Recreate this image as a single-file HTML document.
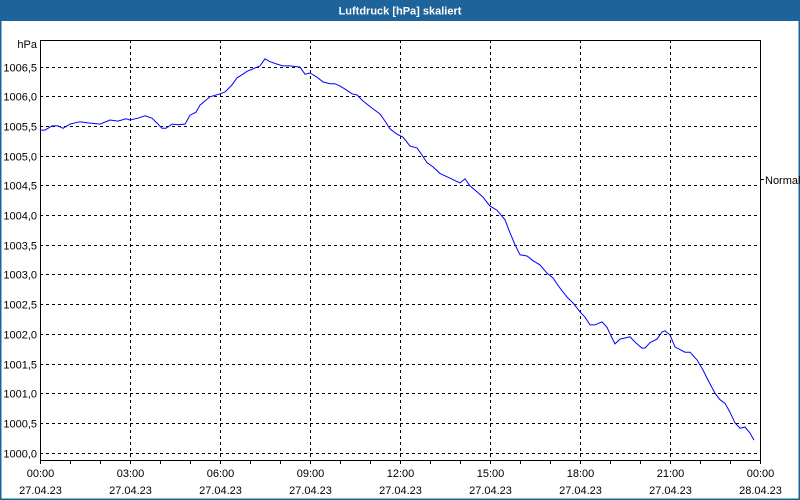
<!DOCTYPE html>
<html><head><meta charset="utf-8"><style>
html,body{margin:0;padding:0;background:#fff}
#w{position:relative;width:800px;height:500px;overflow:hidden;font-family:"Liberation Sans",sans-serif}
</style></head><body>
<div id="w">
<svg id="c" width="800" height="500" xmlns="http://www.w3.org/2000/svg">
<rect x="0" y="0" width="800" height="500" fill="#fff"/>
<rect x="0" y="0" width="800" height="21" fill="#1e6399"/>
<rect x="0.75" y="0.75" width="798.5" height="498.5" fill="none" stroke="#1e6399" stroke-width="1.5"/>
<text x="400" y="14.5" text-anchor="middle" fill="#fff" font-size="11" font-weight="bold">Luftdruck [hPa] skaliert</text>
<g id="grid"></g>
<g id="axes"></g>
<g id="series"></g>
</svg>
</div>
<script>
const times = [0,10,24,36,46,60,80,96,120,140,156,172,180,196,210,224,236,244,252,264,276,290,300,312,320,340,360,370,384,394,404,414,426,440,450,460,474,486,500,520,530,540,554,566,580,590,600,610,624,634,646,664,680,690,700,714,726,740,754,764,774,786,800,820,840,850,860,874,886,900,914,930,940,950,960,974,986,1000,1014,1026,1040,1054,1066,1080,1090,1100,1110,1124,1134,1140,1150,1160,1180,1190,1204,1210,1220,1234,1244,1250,1260,1270,1290,1300,1314,1326,1336,1350,1360,1370,1380,1390,1400,1410,1420,1428];
const values = [1005.43,1005.43,1005.50,1005.50,1005.46,1005.53,1005.57,1005.55,1005.53,1005.60,1005.58,1005.62,1005.60,1005.63,1005.67,1005.63,1005.53,1005.46,1005.46,1005.53,1005.52,1005.53,1005.68,1005.73,1005.85,1005.99,1006.04,1006.07,1006.19,1006.31,1006.36,1006.42,1006.46,1006.51,1006.63,1006.58,1006.54,1006.51,1006.51,1006.49,1006.37,1006.39,1006.32,1006.24,1006.21,1006.21,1006.17,1006.12,1006.04,1006.02,1005.92,1005.80,1005.70,1005.58,1005.45,1005.36,1005.31,1005.16,1005.13,1005.01,1004.88,1004.81,1004.70,1004.62,1004.54,1004.61,1004.49,1004.39,1004.30,1004.15,1004.08,1003.92,1003.70,1003.50,1003.33,1003.31,1003.23,1003.16,1003.02,1002.94,1002.77,1002.62,1002.52,1002.37,1002.28,1002.15,1002.15,1002.20,1002.11,1002.00,1001.83,1001.91,1001.95,1001.86,1001.76,1001.76,1001.85,1001.91,1002.03,1002.05,1001.98,1001.78,1001.69,1001.69,1001.56,1001.39,1001.22,1001.00,1000.89,1000.83,1000.68,1000.50,1000.41,1000.43,1000.33,1000.21];
const yTicks = [1000.0,1000.5,1001.0,1001.5,1002.0,1002.5,1003.0,1003.5,1004.0,1004.5,1005.0,1005.5,1006.0,1006.5];
const xTickHours = [0,3,6,9,12,15,18,21,24];
const xTimeLabels = ["00:00","03:00","06:00","09:00","12:00","15:00","18:00","21:00","00:00"];
const xDateLabels = ["27.04.23","27.04.23","27.04.23","27.04.23","27.04.23","27.04.23","27.04.23","27.04.23","28.04.23"];

const L=40,R=760,T=40,B=460;
const xs = m => L + m/1440*(R-L);
const ys = v => 66.5 + (1006.5 - v)*59.4;
const NS="http://www.w3.org/2000/svg";
function mk(tag,attrs,parent){const e=document.createElementNS(NS,tag);for(const k in attrs)e.setAttribute(k,attrs[k]);parent.appendChild(e);return e;}
const grid=document.getElementById('grid'),axes=document.getElementById('axes'),series=document.getElementById('series');

yTicks.forEach((v,i)=>{
  const y=Math.round(ys(v))+0.5;
  const g=mk('line',{x1:L,x2:R,y1:y,y2:y,stroke:'#000','stroke-dasharray':'3,3','stroke-width':1},grid);
  
  
  const t=mk('text',{x:37,y:y+4,'text-anchor':'end','font-size':'11',fill:'#000'},axes);
  t.textContent=v.toFixed(1).replace('.',',');
  
  
});
xTickHours.forEach((h,i)=>{
  const x=Math.round(xs(h*60))+0.5;
  if(h>0&&h<24){
    const g=mk('line',{x1:x,x2:x,y1:T,y2:B,stroke:'#000','stroke-dasharray':'3,3','stroke-width':1},grid);
    
    
  }
  const t1=mk('text',{x:x,y:477,'text-anchor':'middle','font-size':'11',fill:'#000'},axes);
  t1.textContent=xTimeLabels[i];
  
  
  const t2=mk('text',{x:x,y:494,'text-anchor':'middle','font-size':'11',fill:'#000'},axes);
  t2.textContent=xDateLabels[i];
  
  
});
for(let h=0;h<=24;h++){
  const x=Math.round(xs(h*60))+0.5;
  const tk=mk('line',{x1:x,x2:x,y1:B,y2:B+4,stroke:'#000'},axes);
  
  
}
const frame=mk('path',{d:`M${L+0.5},${T+0.5}H${R+0.5}V${B+0.5}H${L+0.5}Z`,fill:'none',stroke:'#000','stroke-width':1},axes);


const ht=mk('text',{x:37,y:48,'text-anchor':'end','font-size':'11',fill:'#000'},axes);
ht.textContent='hPa';


const nt=mk('line',{x1:R,x2:R+4,y1:179.5,y2:179.5,stroke:'#000'},axes);


const nl=mk('text',{x:765,y:184,'font-size':'11',fill:'#000'},axes);
nl.textContent='Normal';



const d=times.map((m,i)=>(i?'L':'M')+xs(m).toFixed(1)+','+ys(values[i]).toFixed(1)).join('');
const line=mk('path',{d:d,fill:'none',stroke:'#0000ff','stroke-width':1},series);


</script>
</body></html>
